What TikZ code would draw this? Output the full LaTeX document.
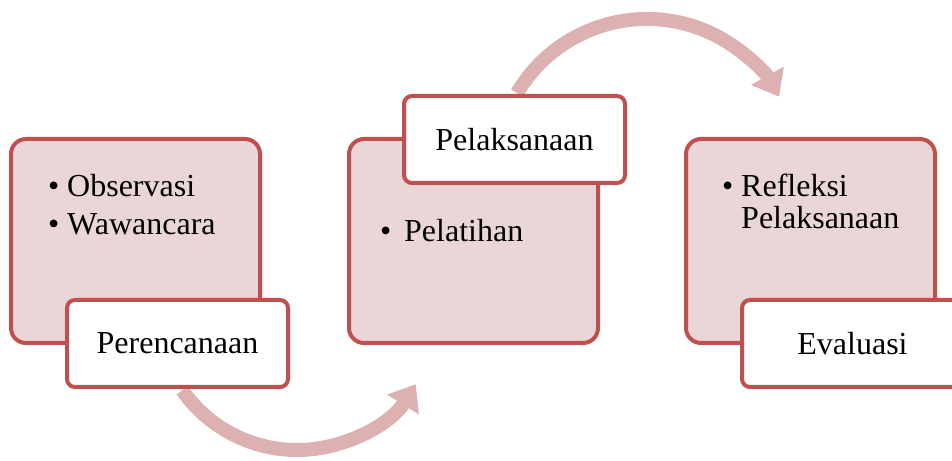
\documentclass[tikz,border=0pt]{standalone}
\usepackage{fontspec}
\setmainfont{Liberation Serif}
\usetikzlibrary{arrows.meta}
\definecolor{bord}{RGB}{192,80,77}
\definecolor{pinkfill}{RGB}{234,214,214}
\definecolor{arcc}{RGB}{221,177,177}
\begin{document}
\begin{tikzpicture}[x=1pt,y=1pt,
 bigbox/.style={draw=bord,line width=4pt,fill=pinkfill,rounded corners=15pt,inner sep=0,outer sep=0,anchor=south west,minimum width=249pt,minimum height=204pt},
 labbox/.style={draw=bord,line width=4pt,fill=white,rounded corners=8pt,inner sep=0,outer sep=0,anchor=south west,minimum width=221pt,minimum height=87pt,font=\fontsize{32}{38}\selectfont},
 txt/.style={anchor=base west,inner sep=0,font=\fontsize{32}{38}\selectfont},
 flow/.style={draw=arcc,line width=14pt,-{Triangle[width=36pt,length=24pt]}}]
\useasboundingbox (0,0) rectangle (952,460);
% arcs
\coordinate (a1s) at (182.3,69.7);
\coordinate (a2s) at (517,366.9);
\draw[flow] (a1s) arc[start angle=215,end angle=328,radius=140];
\draw[flow] (a2s) arc[start angle=149.4,end angle=29,radius=151];
% box 1
\node[bigbox] (b1) at (11,117) {};
\node[txt] (b1d1) at (48,263) {•};
\node[txt] (b1t1) at (67,263) {Observasi};
\node[txt] (b1d2) at (48,225) {•};
\node[txt] (b1t2) at (67,225) {Wawancara};
\node[labbox] (l1) at (67,73) {Perencanaan};
% box 2
\node[bigbox] (b2) at (349,117) {};
\node[txt] (b2d1) at (380,218) {•};
\node[txt] (b2t1) at (404,218) {Pelatihan};
\node[labbox] (l2) at (404,277) {Pelaksanaan};
% box 3
\node[bigbox] (b3) at (686,117) {};
\node[txt] (b3d1) at (722,263) {•};
\node[txt] (b3t1) at (741,263) {Refleksi};
\node[txt] (b3t2) at (741,231) {Pelaksanaan};
\node[labbox] (l3) at (742,73) {Evaluasi};
\end{tikzpicture}
\end{document}
